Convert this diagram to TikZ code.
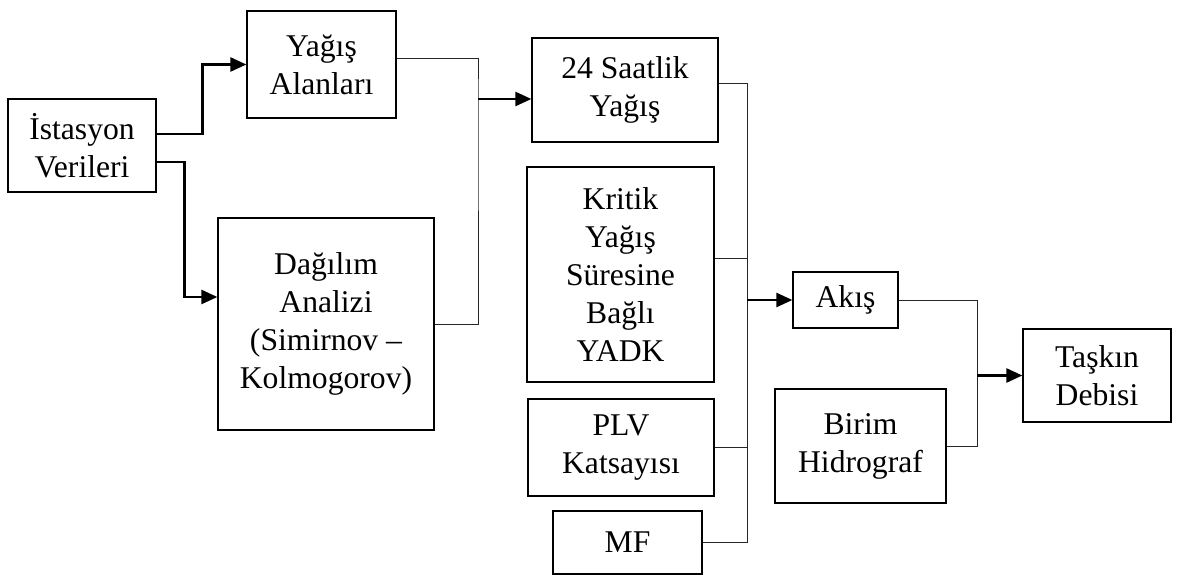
\documentclass[tikz,border=0pt]{standalone}
\usepackage{fontspec}
\setmainfont{Liberation Serif}
\usetikzlibrary{arrows.meta, positioning, calc}

\begin{document}
\begin{tikzpicture}[
    every node/.style={font=\fontsize{18}{21.6}\selectfont, align=center},
    block/.style={rectangle, draw=black, fill=white, line width=0.7pt, inner sep=2pt},
    arrow/.style={-{Triangle[length=0.32cm, width=0.28cm]}, draw=black, line width=1.4pt},
    link/.style={draw=black!85, line width=0.5pt}
  ]
    \useasboundingbox (0,0) rectangle (23.62,-11.5);

    % Inputs
    \node[block, minimum width=2.96cm, minimum height=1.86cm] (ist) at (1.64,-2.91) {İstasyon\\Verileri};
    \node[block, minimum width=2.98cm, minimum height=2.14cm] (yag) at (6.43,-1.29) {Yağış\\Alanları};
    \node[block, minimum width=4.32cm, minimum height=4.24cm] (dag) at (6.52,-6.48) {Dağılım\\Analizi\\(Simirnov --\\Kolmogorov)};

    % Middle column
    \node[block, minimum width=3.72cm, minimum height=2.08cm] (saat) at (12.5,-1.8) {24 Saatlik\\Yağış};
    \node[block, minimum width=3.74cm, minimum height=4.3cm] (krit) at (12.41,-5.49) {Kritik\\Yağış\\Süresine\\Bağlı\\YADK};
    \node[block, minimum width=3.72cm, minimum height=1.94cm] (plv) at (12.42,-8.95) {PLV\\Katsayısı};
    \node[block, minimum width=2.98cm, minimum height=1.26cm] (mf) at (12.55,-10.85) {MF};

    % Outputs
    \node[block, minimum width=2.1cm, minimum height=1.12cm] (akis) at (16.91,-6.0) {Akış};
    \node[block, minimum width=3.42cm, minimum height=2.28cm] (birim) at (17.21,-8.92) {Birim\\Hidrograf};
    \node[block, minimum width=2.96cm, minimum height=1.86cm] (taskin) at (21.94,-7.51) {Taşkın\\Debisi};

    % Junctions
    \coordinate (m1) at (9.56,-1.98);
    \coordinate (m2) at (14.94,-6.0);
    \coordinate (m3) at (19.54,-7.51);

    % Connections
    \draw[arrow] ([yshift=0.23cm]ist.east) -- ++(0.92,0) |- (yag.west);
    \draw[arrow] ([yshift=-0.33cm]ist.east) -- ++(0.56,0) |- ([yshift=0.54cm]dag.west);
    \draw[link] ([yshift=0.13cm]yag.east) -| (m1) |- (dag.east);
    \draw[arrow] (m1) -- (m1 -| saat.west);

    \draw[link] ([yshift=0.14cm]saat.east) -| (m2 |- mf.east) -- (mf.east);
    \draw[link] ([yshift=0.33cm]krit.east) -- ++(0.66,0);
    \draw[link] (plv.east) -- (plv.east -| m2);
    \draw[arrow] (m2) -- (m2 -| akis.west);

    \draw[link] (akis.east) -| (m3 |- birim.east) -- (birim.east);
    \draw[arrow] (m3) -- (m3 -| taskin.west);
  \end{tikzpicture}
\end{document}
